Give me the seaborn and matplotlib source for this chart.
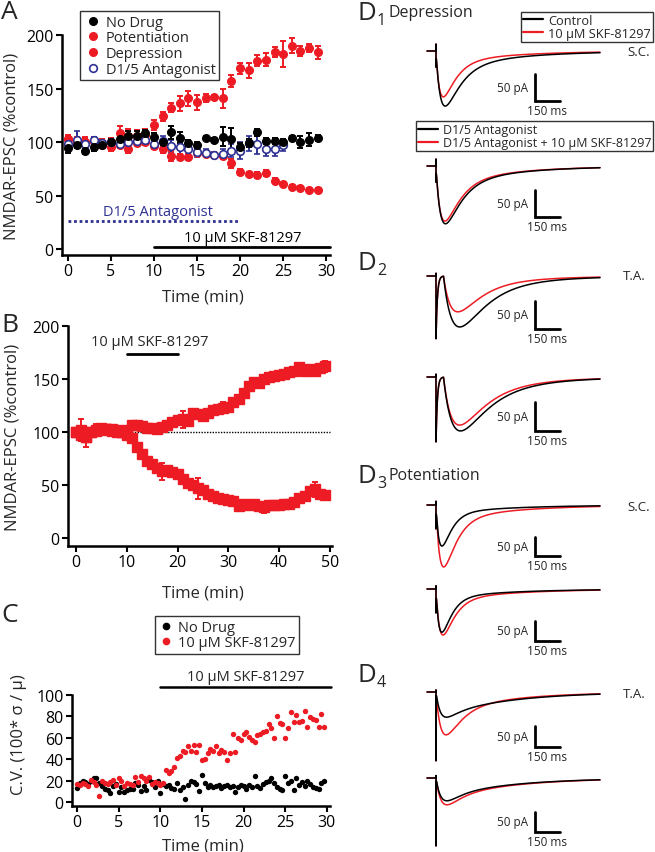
import numpy as np
import matplotlib
matplotlib.use("Agg")
import matplotlib.pyplot as plt
import seaborn as sns
from matplotlib.lines import Line2D

sns.set_theme(style="ticks")
plt.rcParams["font.family"] = ["Open Sans", "DejaVu Sans"]

RED = "#ed1c24"
BLUE = "#2e3192"

# =====================================
# Panel A data (% control, 1 min bins)
# =====================================
a_time = list(range(30))
a_nodrug = [94, 97, 92, 95, 97, 100, 103, 106, 106, 108,
            105, 100, 109, 104, 99, 97, 104, 102, 105, 103,
            95, 99, 109, 101, 101, 100, 104, 100, 102, 104]
a_nodrug_err = [4, 3, 3, 3, 3, 3, 3, 4, 4, 3,
                3, 3, 6, 5, 3, 3, 2, 2, 9, 10,
                4, 4, 3, 3, 3, 3, 2, 6, 6, 3]
a_pot = [103, 101, 100, 101, 99, 100, 108, 106, 106, 107,
         116, 124, 132, 136, 141, 137, 141, 142, 141, 157,
         169, 167, 176, 177, 184, 182, 190, 185, 188, 184]
a_pot_err = [4, 4, 5, 4, 4, 4, 7, 6, 5, 5,
             5, 4, 4, 7, 7, 7, 4, 2, 9, 6,
             5, 7, 5, 6, 5, 12, 7, 5, 4, 6]
a_dep = [103, 101, 100, 101, 97, 95, 97, 93, 99, 100,
         96, 93, 87, 86, 86, 90, 89, 88, 87, 80,
         72, 70, 69, 71, 64, 61, 58, 57, 55, 55]
a_dep_err = [3, 3, 4, 3, 3, 3, 3, 3, 3, 3,
             3, 3, 5, 3, 3, 3, 2, 2, 3, 4,
             3, 2, 3, 3, 2, 2, 2, 2, 2, 2]
a_ant_time = list(range(26))
a_ant = [98, 102, 98, 102, 99, 100, 98, 100, 101, 102,
         98, 101, 96, 95, 93, 91, 90, 88, 89, 92,
         92, 99, 98, 93, 93, 97]
a_ant_err = [4, 8, 4, 3, 3, 3, 4, 4, 3, 3,
             3, 5, 6, 7, 7, 5, 3, 3, 4, 6,
             8, 7, 9, 6, 6, 5]

# =====================================
# Panel B data
# =====================================
b_time = list(range(50))
b_pot = [100, 102, 95, 100, 102, 104, 103, 103, 102, 100,
         102, 107, 107, 106, 104, 104, 103, 105, 107, 109,
         111, 112, 110, 118, 117, 115, 118, 121, 122, 123,
         124, 128, 131, 137, 143, 147, 146, 150, 152, 153,
         154, 155, 157, 158, 161, 158, 159, 158, 160, 162]
b_pot_err = [3, 10, 3, 3, 6, 3, 3, 3, 3, 3,
             3, 3, 3, 3, 3, 3, 3, 3, 3, 3,
             3, 8, 3, 3, 3, 3, 3, 3, 3, 5,
             3, 3, 3, 3, 3, 3, 3, 3, 3, 3,
             3, 3, 3, 3, 3, 3, 3, 3, 3, 5]
b_dep = [100, 97, 95, 100, 101, 102, 103, 101, 100, 100,
         97, 94, 86, 79, 73, 70, 66, 63, 64, 62,
         60, 56, 52, 50, 47, 45, 42, 40, 38, 37,
         36, 35, 30, 32, 31, 32, 30, 29, 31, 31,
         31, 32, 32, 34, 38, 40, 44, 46, 42, 41]
b_dep_err = [3, 3, 9, 3, 3, 3, 3, 3, 3, 3,
             3, 3, 3, 3, 3, 3, 3, 8, 3, 3,
             3, 3, 3, 3, 10, 3, 3, 3, 3, 3,
             3, 3, 4, 3, 3, 3, 3, 5, 3, 3,
             3, 3, 3, 3, 3, 3, 3, 7, 3, 3]

# =====================================
# Panel C data (C.V., 3 samples / min)
# =====================================
c_time = np.arange(90) / 3
c_nodrug = [13, 18, 20, 19, 17, 20, 22, 22, 18, 15,
            12, 11, 8, 15, 17, 9, 14, 9, 11, 12,
            12, 18, 16, 10, 15, 11, 21, 19, 14, 20,
            8, 17, 15, 16, 13, 12, 18, 11, 14, 3,
            16, 20, 19, 17, 10, 25, 18, 14, 16, 14,
            15, 16, 13, 15, 16, 14, 15, 9, 14, 16,
            15, 12, 16, 14, 24, 15, 13, 17, 19, 20,
            22, 18, 14, 12, 11, 24, 18, 20, 11, 22,
            16, 19, 15, 20, 17, 14, 13, 12, 18, 20]
c_skf = [17, 16, 18, 17, 15, 21, 19, 16, 6, 20,
         18, 17, 19, 21, 16, 22, 20, 15, 18, 17,
         16, 23, 19, 24, 22, 20, 23, 17, 19, 18,
         16, 18, 30, 27, 29, 33, 41, 43, 48, 47,
         52, 48, 53, 47, 53, 39, 40, 46, 50, 48,
         52, 46, 49, 47, 39, 46, 64, 47, 60, 58,
         64, 65, 61, 58, 56, 63, 64, 65, 66, 73,
         69, 60, 80, 74, 73, 60, 69, 84, 75, 81,
         75, 76, 85, 70, 79, 78, 77, 70, 82, 70]

# =====================================
# Panel D example traces (pA, kinetics in ms)
# order: D1 top, D1 bottom, D2 top, D2 bottom, D3 top, D3 bottom, D4 top, D4 bottom
# =====================================
d_black_amp = [102, 107, 91, 93, 108, 108, 60, 57]
d_red_amp = [85, 102, 64, 83, 163, 115, 102, 67]
d_delay = [0, 0, 45, 45, 0, 0, 0, 0]
d_black_rise = [45, 45, 100, 100, 35, 35, 50, 55]
d_red_rise = [35, 42, 90, 95, 45, 40, 50, 55]
d_black_decay = [90, 95, 150, 160, 55, 55, 60, 70]
d_red_decay = [75, 90, 130, 150, 70, 65, 90, 75]
d_black_slow = [0.15, 0.15, 0.10, 0.12, 0.08, 0.08, 0.40, 0.35]
d_red_slow = [0.12, 0.15, 0.10, 0.12, 0.10, 0.10, 0.20, 0.33]
d_tau_slow = 400
d_art_depth = [30, 30, 112, 112, 63, 60, 164, 170]
d_art_tau = [1, 1, 8, 8, 1, 1, 0.5, 0.5]
d_art_tick = [13, 13, 5, 5, 10, 8, 5, 6]

fig = plt.figure(figsize=(6.55, 8.53), dpi=100)
W, H = 655, 853


def px_axes(x0, y0, x1, y1):
    return fig.add_axes([x0 / W, 1 - y1 / H, (x1 - x0) / W, (y1 - y0) / H])


def style_axes(ax):
    sns.despine(ax=ax)
    for s in ["left", "bottom"]:
        ax.spines[s].set_linewidth(1.8)
        ax.spines[s].set_color("black")
    ax.tick_params(direction="out", length=4, width=1.5, labelsize=11.5, colors="black", pad=2)


def boxed(leg):
    leg.get_frame().set_edgecolor("black")
    leg.get_frame().set_linewidth(1)


# ---------------- Panel A ----------------
ax = px_axes(62, 36, 330, 256)
ek = dict(fmt="o", ms=5.5, capsize=2.5, elinewidth=1.4, capthick=1.4)
ax.errorbar(a_time, a_dep, yerr=a_dep_err, color=RED, **ek)
ax.errorbar(a_time, a_pot, yerr=a_pot_err, color=RED, **ek)
ax.errorbar(a_ant_time, a_ant, yerr=a_ant_err, color=BLUE, mfc="white", mec=BLUE, mew=1.2, **ek)
ax.errorbar(a_time, a_nodrug, yerr=a_nodrug_err, color="black", **ek)
ax.plot([0, 20], [26, 26], ls=(0, (1, 1)), color=BLUE, lw=2)
ax.text(10.5, 35, "D1/5 Antagonist", color=BLUE, fontsize=10.5, ha="center", va="center")
ax.plot([10, 30.5], [2, 2], color="black", lw=2, clip_on=False)
ax.text(20.3, 11, "10 µM SKF-81297", color="black", fontsize=10.5, ha="center", va="center")
ax.set_xlim(-0.7, 30.45)
ax.set_ylim(-5.6, 200)
ax.set_xticks(range(0, 31, 5))
ax.set_yticks(range(0, 201, 50))
style_axes(ax)
ax.set_xlabel("Time (min)", fontsize=12)
ax.set_ylabel("NMDAR-EPSC (%control)", fontsize=12)
ax.xaxis.set_label_coords(0.526, -0.15)
ax.yaxis.set_label_coords(-0.157, 0.5)
handles = [
    Line2D([], [], marker="o", ls="", color="black", ms=5.5),
    Line2D([], [], marker="o", ls="", color=RED, ms=5.5),
    Line2D([], [], marker="o", ls="", color=RED, ms=5.5),
    Line2D([], [], marker="o", ls="", color=BLUE, mfc="white", mew=1.2, ms=5.5),
]
boxed(ax.legend(handles, ["No Drug", "Potentiation", "Depression", "D1/5 Antagonist"],
                loc="upper left", bbox_to_anchor=(0.068, 1.109), fontsize=10.5,
                frameon=True, fancybox=False, borderpad=0.25, labelspacing=0.05,
                handletextpad=0.3, handlelength=1.2, borderaxespad=0))

# ---------------- Panel B ----------------
ax = px_axes(68, 327, 332, 547)
ax.plot([0, 50], [100, 100], color="black", ls=(0, (1, 1)), lw=1)
ek = dict(fmt="s", ms=6.5, capsize=2.5, elinewidth=1.4, capthick=1.4, color=RED)
ax.errorbar(b_time, b_pot, yerr=b_pot_err, **ek)
ax.errorbar(b_time, b_dep, yerr=b_dep_err, **ek)
ax.plot([10, 20], [173.5, 173.5], color="black", lw=2)
ax.text(14.6, 185, "10 µM SKF-81297", fontsize=10.5, ha="center", va="center")
ax.set_xlim(-1.57, 50.4)
ax.set_ylim(-7.5, 200)
ax.set_xticks(range(0, 51, 10))
ax.set_yticks(range(0, 201, 50))
style_axes(ax)
ax.set_xlabel("Time (min)", fontsize=12)
ax.set_ylabel("NMDAR-EPSC (%control)", fontsize=12)
ax.xaxis.set_label_coords(0.511, -0.173)
ax.yaxis.set_label_coords(-0.18, 0.5)

# ---------------- Panel C ----------------
ax = px_axes(72, 696, 330, 807)
sns.scatterplot(x=c_time, y=c_nodrug, ax=ax, color="black", s=15, linewidth=0)
sns.scatterplot(x=c_time, y=c_skf, ax=ax, color=RED, s=15, linewidth=0)
ax.plot([10, 30.5], [107.5, 107.5], color="black", lw=1.8, clip_on=False)
ax.text(20.3, 117, "10 µM SKF-81297", fontsize=10.5, ha="center", va="center")
ax.set_xlim(-0.6, 30.37)
ax.set_ylim(-3.7, 100)
ax.set_xticks(range(0, 31, 5))
ax.set_yticks(range(0, 101, 20))
style_axes(ax)
ax.set_xlabel("Time (min)", fontsize=12)
ax.set_ylabel("C.V. (100* σ / μ)", fontsize=12)
ax.xaxis.set_label_coords(0.508, -0.28)
ax.yaxis.set_label_coords(-0.175, 0.65)
handles = [Line2D([], [], marker="o", ls="", color="black", ms=4.5),
           Line2D([], [], marker="o", ls="", color=RED, ms=4.5)]
boxed(ax.legend(handles, ["No Drug", "10 µM SKF-81297"], loc="upper left",
                bbox_to_anchor=(0.323, 1.712), fontsize=10.5, frameon=True, fancybox=False,
                borderpad=0.25, labelspacing=0.05, handletextpad=0.3, handlelength=1.0,
                borderaxespad=0))

# ---------------- Panel D traces ----------------
d_baseline_px = [52, 167, 277, 378, 506, 590, 693, 779]
d_bar_top_px = [75, 191, 302, 403, 538, 622, 727, 813]
d_bar_px = [27, 27, 28, 29, 19, 20, 21, 20]


def epsc(t, amp, delay, tr, tf, f):
    tt = np.clip(t - delay, 0, None)
    shape = (1 - np.exp(-tt / tr)) * ((1 - f) * np.exp(-tt / tf) + f * np.exp(-tt / d_tau_slow))
    return -amp * shape / shape.max()


t_pre = np.arange(-54, 0, 2.0)
t_post = np.arange(0, 985, 1.0)
t_full = np.concatenate([t_pre, [0.0], t_post])

for i in range(8):
    b = d_baseline_px[i]
    ppa = d_bar_px[i] / 50.0
    ax = px_axes(400, b - 22, 655, b + 78)
    ax.set_xlim((400 - 436) * 6, (655 - 436) * 6)
    ax.set_ylim(-78 / ppa, 22 / ppa)
    ax.axis("off")
    art = -d_art_depth[i] * np.exp(-t_post / d_art_tau[i])
    for amp, rise, dec, fs, col in [
        (d_red_amp[i], d_red_rise[i], d_red_decay[i], d_red_slow[i], RED),
        (d_black_amp[i], d_black_rise[i], d_black_decay[i], d_black_slow[i], "black"),
    ]:
        y = np.concatenate([np.zeros_like(t_pre), [d_art_tick[i]],
                            epsc(t_post, amp, d_delay[i], rise, dec, fs) + art])
        sns.lineplot(x=t_full, y=y, ax=ax, color=col, lw=1.1, sort=False, estimator=None)
    y0 = -(d_bar_top_px[i] - b) / ppa
    ax.plot([594, 594, 744], [y0, y0 - 50, y0 - 50], color="black", lw=2,
            solid_joinstyle="miter", clip_on=False)
    ax.text(552, y0 - 25, "50 pA", fontsize=8.5, ha="right", va="center")
    ax.annotate("150 ms", xy=(666, y0 - 50), xytext=(0, -2), textcoords="offset points",
                ha="center", va="top", fontsize=8.5)

# side labels
fig.text(650 / W, 1 - 52 / H, "S.C.", fontsize=9.5, ha="right", va="center")
fig.text(650 / W, 1 - 508 / H, "S.C.", fontsize=9.5, ha="right", va="center")
fig.text(646 / W, 1 - 276 / H, "T.A.", fontsize=9.5, ha="right", va="center")
fig.text(646 / W, 1 - 695 / H, "T.A.", fontsize=9.5, ha="right", va="center")

# legends for D1
h_ctrl = [Line2D([], [], color="black", lw=1.6), Line2D([], [], color=RED, lw=1.6)]
boxed(fig.legend(h_ctrl, ["Control", "10 µM SKF-81297"], loc="upper right",
                 bbox_to_anchor=(653 / W, 1 - 13 / H), fontsize=9.2, frameon=True,
                 fancybox=False, borderpad=0.15, labelspacing=0.0, handletextpad=0.4,
                 handlelength=1.6, borderaxespad=0))
boxed(fig.legend(h_ctrl, ["D1/5 Antagonist", "D1/5 Antagonist + 10 µM SKF-81297"],
                 loc="upper right", bbox_to_anchor=(653 / W, 1 - 122 / H), fontsize=9.0,
                 frameon=True, fancybox=False, borderpad=0.15, labelspacing=0.0,
                 handletextpad=0.4, handlelength=1.6, borderaxespad=0))

# panel letters
for lab, y in [("A", 19), ("B", 332), ("C", 622)]:
    fig.text(1 / W, 1 - y / H, lab, fontsize=19, ha="left", va="baseline")
for sub, base, extra in [("1", 20, "Depression"), ("2", 270, ""),
                         ("3", 483, "Potentiation"), ("4", 682, "")]:
    fig.text(358 / W, 1 - base / H, "D", fontsize=18.5, ha="left", va="baseline")
    fig.text(377 / W, 1 - (base + 5) / H, sub, fontsize=11.5, ha="left", va="baseline")
    if extra:
        fig.text(389 / W, 1 - (base - 3) / H, extra, fontsize=11.5, ha="left", va="baseline")

fig.savefig("out.png", dpi=100)
